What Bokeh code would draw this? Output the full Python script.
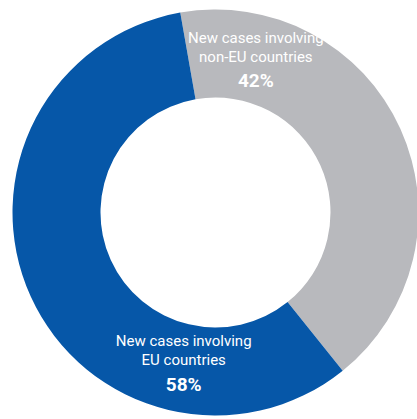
import math
from bokeh.plotting import figure
from bokeh.models import Range1d, ColumnDataSource
from bokeh.core.properties import value
from bokeh.embed import file_html
from bokeh.resources import INLINE

# Data
categories = ["New cases involving non-EU countries", "New cases involving EU countries"]
label_lines1 = ["New cases involving", "New cases involving"]
label_lines2 = ["non-EU countries", "EU countries"]
shares = [42, 58]
colors = ["#b8b9bd", "#0657a8"]

W, H = 417, 419
CX, CY = 215, 207
R_OUT, R_IN = 203, 115
START_DEG = 100.0  # start of first slice, counter-clockwise from +x

p = figure(width=W, height=H, output_backend="svg", toolbar_location=None,
           x_range=Range1d(0, W), y_range=Range1d(0, H), min_border=0)
p.axis.visible = False
p.grid.visible = False
p.outline_line_color = None
p.background_fill_color = "white"

total = sum(shares)
starts, ends = [], []
a = START_DEG
for s in shares:
    span = 360.0 * s / total
    starts.append(math.radians(a))
    ends.append(math.radians(a - span))
    a -= span

src = ColumnDataSource(dict(x=[CX] * 2, y=[CY] * 2, start=starts, end=ends, color=colors))
p.annular_wedge(x="x", y="y", inner_radius=R_IN, outer_radius=R_OUT,
                start_angle="start", end_angle="end", direction="clock",
                fill_color="color", line_color=None, source=src)

# label anchor: angle (deg, ccw from +x) and radius
label_ang = [75.3, -102.0]
label_rad = [159, 153]
lx = [CX + r * math.cos(math.radians(t)) for r, t in zip(label_rad, label_ang)]
ly = [CY + r * math.sin(math.radians(t)) for r, t in zip(label_rad, label_ang)]

font = value("Roboto")
p.text(x=lx, y=[v + 21 for v in ly], text=label_lines1, text_color="white",
       text_font=font, text_font_size="15px", text_align="center", text_baseline="middle")
p.text(x=lx, y=[v + 2 for v in ly], text=label_lines2, text_color="white",
       text_font=font, text_font_size="15px", text_align="center", text_baseline="middle")
p.text(x=lx, y=[v - 22 for v in ly], text=[f"{s}%" for s in shares], text_color="white",
       text_font=font, text_font_style="bold", text_font_size="19px",
       text_align="center", text_baseline="middle")

open("out.html", "w").write(file_html(p, INLINE))
